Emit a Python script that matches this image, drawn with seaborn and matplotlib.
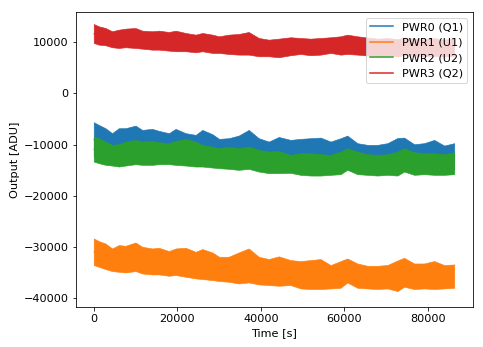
import numpy as np
import pandas as pd
import matplotlib
matplotlib.use("Agg")
import matplotlib.pyplot as plt
import seaborn as sns

# Time samples [s]
time_s = [0, 1200, 2800, 4400, 6000, 7600, 10000, 11600, 14000, 15600, 18000,
          19600, 22000, 24400, 26000, 28400, 30000, 32300, 34700, 37100, 39500,
          41900, 44300, 47100, 49500, 51900, 54300, 56700, 59100, 60700, 63100,
          65500, 67900, 70300, 72700, 74300, 76700, 79100, 81500, 83900, 86300]

series_names = ["PWR0 (Q1)", "PWR1 (U1)", "PWR2 (U2)", "PWR3 (Q2)"]

# Upper / lower envelope of each noisy trace [ADU]
pwr0_top = [-5620, -6140, -6790, -7760, -6790, -6790, -6280, -7120, -6920, -7310, -7760,
            -6920, -7760, -8090, -7120, -7960, -8870, -8740, -8230, -7120, -8740,
            -9400, -8500, -9070, -8870, -8740, -8620, -9400, -8740, -8230, -9710,
            -10040, -10040, -9710, -8700, -8620, -9910, -9710, -9070, -10180, -9710]
pwr0_bot = [-12300, -12600, -12900, -13100, -13300, -13100, -12800, -12900, -12900, -12800, -12800,
            -12900, -13100, -13300, -13300, -13500, -13600, -13700, -13900, -13700, -14200,
            -14500, -14500, -14500, -14900, -15000, -15000, -14900, -14800, -13300, -14800,
            -14900, -15000, -14900, -15000, -14300, -14900, -14800, -14900, -14900, -14800]

pwr1_top = [-28310, -28820, -29290, -30260, -29600, -29740, -29090, -29930, -30260, -30130, -30770,
            -30260, -30130, -30910, -30380, -31040, -31880, -31880, -31040, -30260, -31880,
            -32330, -31800, -32530, -32720, -32530, -32330, -33500, -32720, -32210, -33190,
            -33640, -33640, -33500, -32600, -32080, -33190, -33190, -32720, -33500, -33380]
pwr1_bot = [-33500, -33830, -34280, -34670, -34810, -34940, -34670, -35140, -35330, -35330, -35590,
            -35450, -35780, -36110, -36230, -36430, -36620, -36760, -37090, -36890, -37280,
            -37400, -37540, -37400, -38060, -38180, -38180, -38060, -37930, -36900, -37930,
            -38060, -38180, -38060, -38570, -37730, -38180, -38060, -38180, -38060, -37930]

pwr2_top = [-8420, -8740, -9400, -10040, -9910, -9400, -9070, -9400, -9260, -9520, -9710,
            -9260, -8870, -9400, -10040, -10370, -10690, -10370, -10690, -10370, -11020,
            -11350, -11210, -11990, -11660, -11660, -11860, -11990, -11350, -10690, -11350,
            -11860, -11990, -11860, -11350, -10690, -11470, -11660, -11660, -11860, -11470]
pwr2_bot = [-13300, -13610, -13940, -14080, -14270, -14080, -13810, -13940, -13940, -13810, -13810,
            -13940, -14080, -14270, -14270, -14470, -14590, -14720, -14920, -14720, -15250,
            -15560, -15560, -15500, -15890, -16030, -16030, -15890, -15760, -14900, -15760,
            -15890, -16030, -15890, -16030, -15250, -15890, -15760, -15890, -15890, -15760]

pwr3_top = [13550, 13100, 12770, 12130, 12440, 12640, 12770, 12250, 12130, 12250, 11990,
            12250, 11800, 11470, 11800, 11470, 11150, 11470, 11600, 11990, 10820,
            10490, 10690, 10960, 10820, 10690, 10820, 10960, 11150, 11470, 11150,
            10900, 10700, 10800, 10600, 10900, 10700, 10600, 10800, 10500, 10700]
pwr3_bot = [9850, 9520, 9400, 9010, 8870, 9010, 8870, 8740, 8540, 8540, 8350,
            8230, 8230, 8030, 8230, 7900, 7900, 7700, 7570, 7570, 7250,
            7250, 7060, 7450, 7700, 7450, 7570, 7900, 7570, 7700, 7570,
            7400, 7300, 7400, 7200, 7500, 7300, 7250, 7300, 7200, 7350]

envelopes = [(pwr0_top, pwr0_bot), (pwr1_top, pwr1_bot),
             (pwr2_top, pwr2_bot), (pwr3_top, pwr3_bot)]
colors = ["#1f77b4", "#ff7f0e", "#2ca02c", "#d62728"]

rows = []
for name, (top, bot) in zip(series_names, envelopes):
    for t, a, b in zip(time_s, top, bot):
        rows.append((name, t, a))
        rows.append((name, t, b))
df = pd.DataFrame(rows, columns=["series", "Time [s]", "Output [ADU]"])

plt.rcParams["font.size"] = 11.2

fig = plt.figure(figsize=(483 / 72, 347 / 72), dpi=72)
ax = fig.add_axes([0.1567, 0.1161, 0.9787 - 0.1567, 0.9654 - 0.1161])

sns.lineplot(data=df, x="Time [s]", y="Output [ADU]", hue="series",
             hue_order=series_names, palette=colors, estimator="mean",
             errorbar=lambda v: (v.min(), v.max()),
             err_kws={"alpha": 1, "linewidth": 0.6}, linewidth=1.5, ax=ax)

for i, (ln, coll) in enumerate(zip(ax.lines[:4], ax.collections[:4])):
    ln.set_zorder(2 + i)
    ln.set_solid_capstyle("butt")
    coll.set_zorder(2 + i)
    coll.set_edgecolor(colors[i])

ax.set_xlim(-4320, 90720)
ax.set_ylim(-41630, 15890)
ax.set_xticks([0, 20000, 40000, 60000, 80000])
ax.set_yticks([10000, 0, -10000, -20000, -30000, -40000])
ax.set_xlabel("Time [s]")
ax.set_ylabel("Output [ADU]")
sns.move_legend(ax, "upper right", title=None)
ax.get_legend().set_zorder(10)

fig.savefig("out.png", dpi=72)
